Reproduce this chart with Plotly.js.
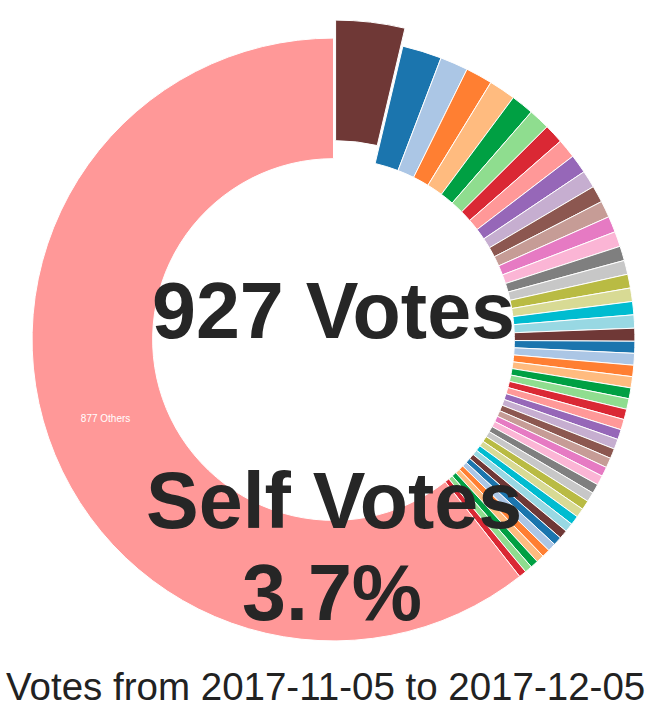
<!DOCTYPE html>
<html>
<head>
<meta charset="utf-8">
<script src="https://cdn.plot.ly/plotly-3.0.1.min.js"></script>
<style>
  html, body { margin: 0; padding: 0; background: #fff; }
  #graph { width: 653px; height: 714px; }
</style>
</head>
<body>
<div id="graph"></div>
<script>
// share of the voting weight per voter (%), self vote first, the rest sorted, "others" last
const selfShare = 3.7;
const voterShares = [
    2.11, 1.50, 1.44, 1.43, 1.22, 1.14, 1.04, 1.03, 1.01, 0.93,
    0.90, 0.89, 0.86, 0.81, 0.78, 0.75, 0.74, 0.72, 0.71, 0.71,
    0.69, 0.64, 0.63, 0.61, 0.60, 0.58, 0.57, 0.56, 0.56, 0.54,
    0.54, 0.53, 0.53, 0.51, 0.51, 0.51, 0.51, 0.50, 0.49, 0.49,
    0.47, 0.47, 0.46, 0.44, 0.43, 0.42, 0.42, 0.40, 0.40
];
const othersShare = 60.64;
const othersCount = 877;
const totalVotes = 927;
const dateFrom = "2017-11-05";
const dateTo = "2017-12-05";

const palette = [
    "#6f3836", "#1b75ae", "#abc6e5", "#ff7f32", "#ffbb7f", "#00a043", "#8fdd8f",
    "#da2834", "#ff9898", "#9667b8", "#c6aed0", "#8c5750", "#c69c96", "#e67ac3",
    "#fbb5d5", "#7f7f7f", "#c7c7c7", "#b9bb43", "#d8da94", "#00bcd0", "#98d8e3"
];

document.addEventListener("DOMContentLoaded", function () {
    const values = [selfShare].concat(voterShares, [othersShare]);
    const n = values.length;
    const labels = values.map((v, i) => "slice " + i);
    const texts = values.map((v, i) => (i === n - 1 ? othersCount + " Others" : ""));
    const colors = values.map((v, i) => palette[i % palette.length]);
    const pulls = values.map((v, i) => (i === 0 ? 0.06 : 0));

    const pie = {
        type: "pie",
        values: values,
        labels: labels,
        text: texts,
        textinfo: "text",
        textposition: "inside",
        insidetextorientation: "horizontal",
        insidetextfont: { color: "#ffffff", size: 10, family: "Arial, 'Liberation Sans', sans-serif" },
        hole: 0.6,
        sort: false,
        direction: "clockwise",
        rotation: 0,
        pull: pulls,
        marker: {
            colors: colors,
            line: { color: "#ffffff", width: 1 }
        },
        domain: { x: [0.0214, 1], y: [0.077, 0.972] },
        showlegend: false,
        hoverinfo: "none"
    };

    const bigFont = { family: "Arial, 'Liberation Sans', sans-serif", size: 79, color: "#262626", weight: "bold" };

    const layout = {
        width: 653,
        height: 714,
        margin: { l: 0, r: 0, t: 0, b: 0 },
        paper_bgcolor: "#ffffff",
        showlegend: false,
        annotations: [
            {
                text: totalVotes + " Votes", x: 0.51, y: 0.565, xref: "paper", yref: "paper",
                xanchor: "center", yanchor: "middle", showarrow: false, font: bigFont
            },
            {
                text: "Self Votes", x: 0.511, y: 0.299, xref: "paper", yref: "paper",
                xanchor: "center", yanchor: "middle", showarrow: false, font: bigFont
            },
            {
                text: selfShare.toFixed(1) + "%", x: 0.509, y: 0.170, xref: "paper", yref: "paper",
                xanchor: "center", yanchor: "middle", showarrow: false, font: bigFont
            },
            {
                text: "Votes from " + dateFrom + " to " + dateTo, x: 0.499, y: 0.039, xref: "paper", yref: "paper",
                xanchor: "center", yanchor: "middle", showarrow: false,
                font: { family: "Arial, 'Liberation Sans', sans-serif", size: 38.5, color: "#222222" }
            }
        ]
    };

    Plotly.newPlot("graph", [pie], layout, { displayModeBar: false, staticPlot: true });
});
</script>
</body>
</html>
